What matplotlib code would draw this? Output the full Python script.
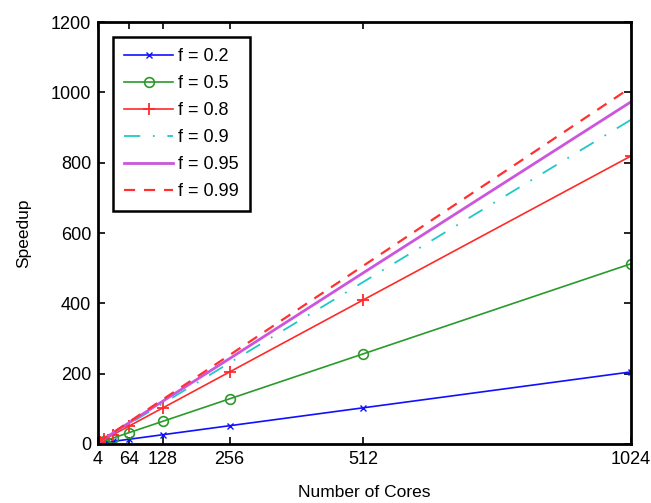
import matplotlib
matplotlib.use("Agg")
import matplotlib.pyplot as plt

plt.rcParams['font.family'] = ['Liberation Sans', 'DejaVu Sans']

cores = [4, 8, 16, 32, 64, 128, 256, 512, 1024]
f_labels = ['f = 0.2', 'f = 0.5', 'f = 0.8', 'f = 0.9', 'f = 0.95', 'f = 0.99']
s02 = [1.6, 2.4, 4.0, 7.2, 13.6, 26.4, 52, 103, 205]
s05 = [2.5, 4.5, 8.5, 16.5, 32.5, 64.5, 128.5, 256.5, 512.5]
s08 = [3.4, 6.6, 13.0, 25.8, 51.4, 102.6, 205, 410, 819]
s09 = [3.7, 7.3, 14.5, 28.9, 57.7, 115, 231, 461, 922]
s095 = [3.85, 7.65, 15.25, 30.45, 60.85, 121.65, 243, 487, 973]
s099 = [3.97, 7.93, 15.85, 31.7, 63.4, 126.7, 253, 507, 1014]
xticks = [4, 64, 128, 256, 512, 1024]

fig = plt.figure(figsize=(6.51, 5.03), dpi=100)
ax = fig.add_axes([0.1505, 0.1173, 0.8185, 0.8387])

ax.plot(cores, s02, color='#1010ff', marker='x', ms=5, lw=1.2, label=f_labels[0])
ax.plot(cores, s05, color='#2a9a2a', marker='o', ms=7, mfc='none', mew=1.2, lw=1.2, label=f_labels[1])
ax.plot(cores, s08, color='#ff2a2a', marker='+', ms=9, mew=1.3, lw=1.2, label=f_labels[2])
ax.plot(cores, s09, color='#20c8c8', ls=(0, (9, 7, 1, 7)), lw=1.3, label=f_labels[3])
ax.plot(cores, s095, color='#cc55dd', lw=2.0, label=f_labels[4])
ax.plot(cores, s099, color='#ff3030', ls=(0, (5, 4)), lw=1.6, label=f_labels[5])

ax.set_xlim(4, 1024)
ax.set_ylim(0, 1200)
ax.set_xticks(xticks)
ax.set_yticks(range(0, 1201, 200))
ax.tick_params(direction='in', top=True, right=True, labelsize=13, length=5, width=1.2, pad=5)
for s in ax.spines.values():
    s.set_linewidth(2)

ax.set_xlabel('Number of Cores', fontsize=12.5, labelpad=12)
ax.set_ylabel('Speedup', fontsize=12.5, labelpad=14)

leg = ax.legend(loc='upper left', fontsize=13, frameon=True, fancybox=False,
                edgecolor='black', framealpha=1, handlelength=2.7,
                borderaxespad=0.85, labelspacing=0.55, handletextpad=0.3,
                borderpad=0.6)
leg.get_frame().set_linewidth(1.8)

fig.savefig('out.png', dpi=100)
